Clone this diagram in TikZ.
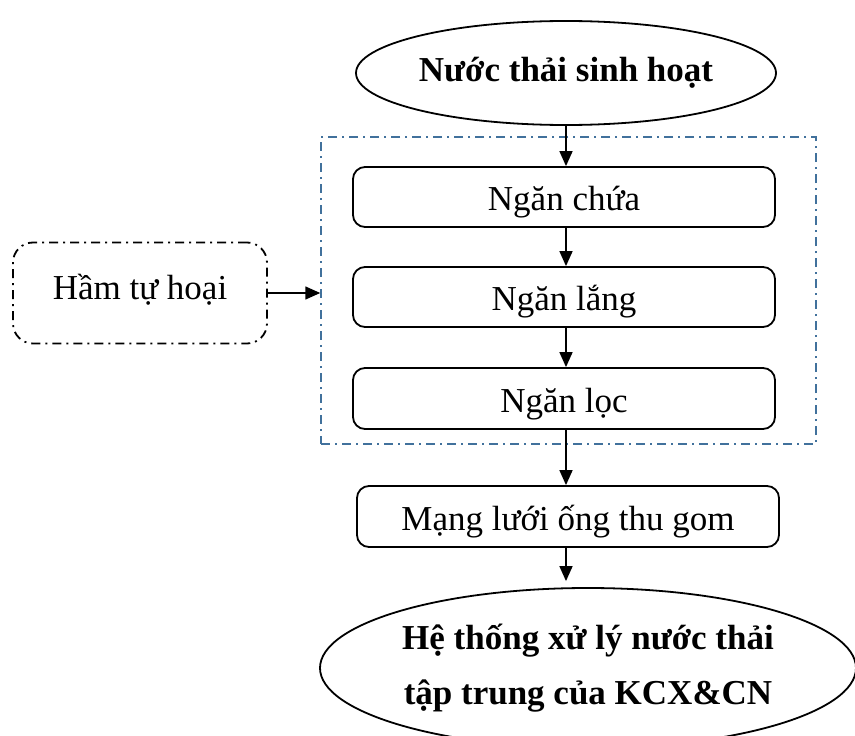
\documentclass[tikz,border=0pt]{standalone}
\usepackage{fontspec}
\setmainfont{Liberation Serif}
\usetikzlibrary{shapes.geometric,arrows.meta}
\definecolor{frameblue}{HTML}{41719C}
\begin{document}
\begin{tikzpicture}[x=1pt,y=-1pt,
  stage/.style={draw, line width=1.8pt, rounded corners=12pt, minimum width=422pt,
    minimum height=60pt, inner sep=0pt, text height=27pt, text depth=0pt,
    font=\fontsize{35}{42}\selectfont},
  oval/.style={draw, ellipse, line width=1.8pt, inner sep=0pt,
    font=\fontsize{35}{55}\selectfont\bfseries, align=center},
  arr/.style={-{Triangle[length=15pt,width=13pt]}, line width=1.6pt},
  dashdot/.style={dash pattern=on 9pt off 5pt on 2pt off 5pt}]
\useasboundingbox (0,0) rectangle (855,736);
\clip (0,0) rectangle (855,736);

% source
\node[oval, minimum width=420pt, minimum height=104pt] (src) at (566,73) {Nước thải sinh hoạt};

% septic tank frame and its chambers
\node[draw=frameblue, dashdot, line width=1.5pt, minimum width=495pt,
  minimum height=307pt, inner sep=0pt] (tank) at (568.5,290.5) {};
\node[stage] (chua) at (564,197) {Ngăn chứa};
\node[stage] (lang) at (564,297) {Ngăn lắng};
\node[stage, minimum height=61pt] (loc) at (564,398.5) {Ngăn lọc};

% label box for the tank
\node[draw, dashdot, line width=1.8pt, rounded corners=20pt, minimum width=254pt,
  minimum height=101pt, text height=13pt, text depth=0pt,
  font=\fontsize{35}{42}\selectfont] (ham) at (140,293) {Hầm tự hoại};

% collection network and treatment plant
\node[stage, minimum height=61pt] (mang) at (568,516.5) {Mạng lưới ống thu gom};
\node[oval, minimum width=536pt, minimum height=160pt] (dest) at (588,668)
  {Hệ thống xử lý nước thải\\tập trung của KCX\&CN};

% flow
\draw[arr] (src.south) -- (src.south |- chua.north);
\draw[arr] (src.south |- chua.south) -- (src.south |- lang.north);
\draw[arr] (src.south |- lang.south) -- (src.south |- loc.north);
\draw[arr] (src.south |- loc.south) -- (src.south |- mang.north);
\draw[arr, shorten >=6pt] (src.south |- mang.south) -- (src.south |- dest.north);
\draw[arr] (ham.east) -- (ham.east -| tank.west);
\end{tikzpicture}
\end{document}
